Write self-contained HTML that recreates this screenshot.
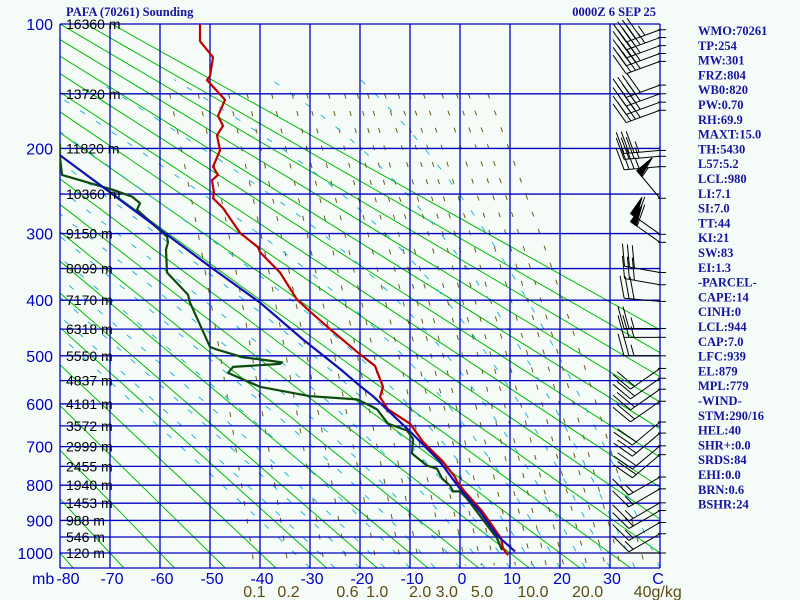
<!DOCTYPE html>
<html><head><meta charset="utf-8"><style>
html,body{margin:0;padding:0;background:#f5fcf8;}
svg{display:block;font-family:"Liberation Sans",sans-serif;}
.stat{font-family:"Liberation Serif",serif;font-weight:bold;font-size:12.5px;fill:#1414a0;}
</style></head><body>
<svg id="chart" width="800" height="600" viewBox="0 0 800 600" xmlns="http://www.w3.org/2000/svg">
<rect x="0" y="0" width="800" height="600" fill="#f5fcf8"/>
<defs><clipPath id="plotclip"><rect x="60" y="24" width="600" height="544"/></clipPath></defs>
<g id="bgLines" clip-path="url(#plotclip)"></g>
<g id="grid"></g>
<g id="series" clip-path="url(#plotclip)"></g>
<g id="barbs"></g>
<g id="labels"></g>
<text x="66" y="16" font-family="Liberation Serif, serif" font-weight="bold" font-size="12.5" fill="#1414a0">PAFA (70261) Sounding</text>
<text x="656" y="16" text-anchor="end" font-family="Liberation Serif, serif" font-weight="bold" font-size="12.5" fill="#1414a0">0000Z  6 SEP 25</text>
<g id="stats"></g>
</svg>
<script>
const NS="http://www.w3.org/2000/svg";
// ---- data ----
const pressLevels=[100,200,300,400,500,600,700,800,900,1000];
const heightLevels=[150,200,250,300,350,400,450,500,550,600,650,700,750,800,850,900,950,1000];
const heightLabels=["13720 m","11820 m","10360 m","9150 m","8099 m","7170 m","6318 m","5550 m","4837 m","4181 m","3572 m","2999 m","2455 m","1940 m","1453 m","988 m","546 m","120 m"];
const tempTicks=[-80,-70,-60,-50,-40,-30,-20,-10,0,10,20,30,40];
const tempTickLabels=["-80","-70","-60","-50","-40","-30","-20","-10","0","10","20","30","C"];
const mixRatios=[0.1,0.2,0.4,0.6,1,1.5,2,3,4,5,6,8,10,12,15,20,25,30,40];
const mixLabels=[0.1,0.2,0.6,1.0,2.0,3.0,5.0,10.0,20.0,40];
const mixLabelText=["0.1","0.2","0.6","1.0","2.0","3.0","5.0","10.0","20.0","40g/kg"];
const thetaC=[-90,-80,-70,-60,-50,-40,-30,-20,-10,0,10,20,30,40,50,60,70,80,90,100,110,120];
const moistT0=[-30,-25,-20,-15,-10,-5,0,5,10,15,20,25,30,35,40];
const tempP=[100,111,122,136,139,155,169,178,187,202,219,228,234,249,255,267,299,319,326,356,399,419,450,497,520,563,585,612,645,688,738,778,790,815,874,954,985,1007];
const tempT=[-52,-52,-49.4,-50,-50.6,-47,-48.4,-47.4,-48.6,-48,-49.4,-48.4,-49.6,-49.2,-49.4,-47.4,-44,-40.4,-40,-36,-32.6,-30,-26,-20,-17,-15.4,-16,-14.4,-10,-7.4,-3.4,-1,-0.6,0.8,4.5,8.2,8.6,9.6];
const dewP=[195,209,228,245,253,261,269,284,304,312,322,356,391,404,483,488,503,507,513,516,522,534,563,583,590,607,612,645,661,681,717,748,756,782,801,817,817,837,954,991];
const dewT=[-80,-80,-79.6,-69.4,-65.6,-64,-64.6,-62,-58.6,-58.4,-58.8,-58.6,-54.4,-54,-50,-48.6,-43.4,-40,-35.6,-36,-45.4,-46.4,-40,-30,-20.6,-17.4,-16.6,-14.4,-10.6,-9.4,-9.6,-6.6,-4.6,-3.6,-2,-1.4,0,1.4,7.4,8.4];
const parcelP=[207,347,404,469,526,561,583,663,738,810,874,945,995];
const parcelT=[-80,-50,-40,-31.4,-24,-20,-17.4,-10,-4,0,4,7.4,11];
const barbP=[103.6,108.6,114,119.4,125,143,150,157,164,202,208,219,255,301,312,356,375,402,449,465,500,525,545,568,594,641,667,698,720,778,810,849,871,906,940,1000];
const barbDir=[250,250,250,250,250,250,250,250,250,265,265,265,320,305,305,280,280,275,270,270,270,235,235,235,235,230,230,230,230,240,240,240,240,240,240,270];
const barbSpd=[45,45,40,40,40,40,40,40,40,35,35,35,55,60,60,30,30,30,25,25,25,20,20,20,20,20,20,20,20,15,15,15,15,15,15,0];
const statLines=["WMO:70261","TP:254","MW:301","FRZ:804","WB0:820","PW:0.70","RH:69.9","MAXT:15.0","TH:5430","L57:5.2","LCL:980","LI:7.1","SI:7.0","TT:44","KI:21","SW:83","EI:1.3","-PARCEL-","CAPE:14","CINH:0","LCL:944","CAP:7.0","LFC:939","EL:879","MPL:779","-WIND-","STM:290/16","HEL:40","SHR+:0.0","SRDS:84","EHI:0.0","BRN:0.6","BSHR:24"];

// ---- axes ----
const P0=Math.pow(100,0.286), PD=Math.pow(1000,0.286)-P0;
function yP(p){return 24+(Math.pow(p,0.286)-P0)*529/PD;}
function xT(t){return 460+5*t;}
const PBOT=Math.pow(P0+PD*544/529,1/0.286);

function mk(tag,attrs,parent){const e=document.createElementNS(NS,tag);for(const k in attrs)e.setAttribute(k,attrs[k]);parent.appendChild(e);return e;}
function pathFrom(ps,ts){return ps.map((p,i)=>(i?"L":"M")+xT(ts[i]).toFixed(1)+","+yP(p).toFixed(1)).join("");}

const bg=document.getElementById("bgLines");
thetaC.forEach(th=>{
  const K=th+273.15;
  const t1=K*Math.pow(100/1000,0.286)-273.15, t2=K*Math.pow(PBOT/1000,0.286)-273.15;
  const l=mk("line",{x1:xT(t1),y1:yP(100),x2:xT(t2),y2:yP(PBOT),stroke:"#00bb00","stroke-width":1},bg);
  
  
});
function tMix(w,p){const e=w*p/(622+w);const L=Math.log(e/6.112);return 243.5*L/(17.67-L);}
mixRatios.forEach(w=>{
  const ps=[],ts=[];for(let p=150;p<=PBOT+1;p+=10){ps.push(p);ts.push(tMix(w,p));}
  const l=mk("path",{d:pathFrom(ps,ts),fill:"none",stroke:"#6b5a1a","stroke-width":1,"stroke-dasharray":"5,13"},bg);
  
  
});
function es(t){return 6.112*Math.exp(17.67*t/(t+243.5));}
moistT0.forEach(t0=>{
  let T=t0+273.15,p=PBOT;const ps=[p],ts=[t0];
  while(p>140){
    const e=es(T-273.15),rs=0.622*e/(p-e);
    const dTdp=(287*T+2.5e6*rs)/(p*(1005+2.5e6*2.5e6*rs*0.622/(287*T*T)));
    T-=dTdp*5;p-=5;ps.push(p);ts.push(T-273.15);
  }
  const l=mk("path",{d:pathFrom(ps,ts),fill:"none",stroke:"#22b4d4","stroke-width":1,"stroke-dasharray":"6,13"},bg);
  
  
});

const grid=document.getElementById("grid");
const gc="#0000c0";
tempTicks.forEach(t=>{
  const l=mk("line",{x1:xT(t),y1:24,x2:xT(t),y2:568,stroke:gc,"stroke-width":1.3},grid);
  
  
});
[100].concat(heightLevels).forEach(p=>{
  const l=mk("line",{x1:60,y1:yP(p),x2:660,y2:yP(p),stroke:gc,"stroke-width":1.3},grid);
  
  
});
const bb=mk("line",{x1:60,y1:568,x2:660,y2:568,stroke:gc,"stroke-width":1.3},grid);



const lab=document.getElementById("labels");
pressLevels.forEach(p=>{
  const t=mk("text",{x:53,y:yP(p)+6,"text-anchor":"end","font-size":16,fill:"#0000c0"},lab);
  t.textContent=p;
  
  
});
const h0=mk("text",{x:66,y:yP(100)+5,"font-size":14,fill:"#000"},lab);
h0.textContent="16360 m";


heightLevels.forEach((p,i)=>{
  const t=mk("text",{x:66,y:yP(p)+5,"font-size":14,fill:"#000"},lab);
  t.textContent=heightLabels[i];
  
  
});
tempTicks.forEach((tv,i)=>{
  const t=mk("text",{x:xT(tv)+(i===0?8:(i===12?-2:2)),y:584,"text-anchor":"middle","font-size":16,fill:"#0000c0"},lab);
  t.textContent=tempTickLabels[i];
  
  
});
const mb=mk("text",{x:32,y:584,"font-size":16,fill:"#0000c0"},lab);
mb.textContent="mb";


mixLabels.forEach((w,i)=>{
  const x=xT(tMix(w,PBOT));
  const last=i===mixLabels.length-1;
  const t=mk("text",{x:last?x-12:x,y:597,"text-anchor":last?"start":"middle","font-size":16,fill:"#5c4c14"},lab);
  t.textContent=mixLabelText[i];
  
  
});

const ser=document.getElementById("series");
const sd=mk("path",{d:pathFrom(dewP,dewT),fill:"none",stroke:"#0e4a0e","stroke-width":2.2,"stroke-linejoin":"round"},ser);


const st=mk("path",{d:pathFrom(tempP,tempT),fill:"none",stroke:"#c00000","stroke-width":2.2,"stroke-linejoin":"round"},ser);


const sp=mk("path",{d:pathFrom(parcelP,parcelT),fill:"none",stroke:"#1010b4","stroke-width":2.2,"stroke-linejoin":"round"},ser);



const bg2=document.getElementById("barbs");
barbP.forEach((p,i)=>{
  const y=yP(p),d=barbDir[i]*Math.PI/180,v=[Math.sin(d),-Math.cos(d)],f=[-v[1],v[0]];
  const g=mk("g",{stroke:"#000","stroke-width":1,fill:"#000"},bg2);
  
  
  mk("line",{x1:658,y1:y,x2:666,y2:y},g);
  const bx=660,L=36,tx=bx+L*v[0],ty=y+L*v[1];
  mk("line",{x1:bx,y1:y,x2:tx,y2:ty},g);
  let s=barbSpd[i],px=tx,py=ty;
  while(s>=50){mk("polygon",{points:`${px},${py} ${px+20*f[0]},${py+20*f[1]} ${px-7*v[0]},${py-7*v[1]}`},g);px-=8*v[0];py-=8*v[1];s-=50;}
  while(s>=10){mk("line",{x1:px,y1:py,x2:px+22*f[0]+6*v[0],y2:py+22*f[1]+6*v[1]},g);px-=5*v[0];py-=5*v[1];s-=10;}
  if(s>=5){mk("line",{x1:px,y1:py,x2:px+11*f[0]+3*v[0],y2:py+11*f[1]+3*v[1]},g);}
});

const stg=document.getElementById("stats");
statLines.forEach((s,i)=>{
  const t=mk("text",{x:698,y:35+i*14.8,class:"stat"},stg);
  t.textContent=s;
  
  
});
</script>
</body></html>
